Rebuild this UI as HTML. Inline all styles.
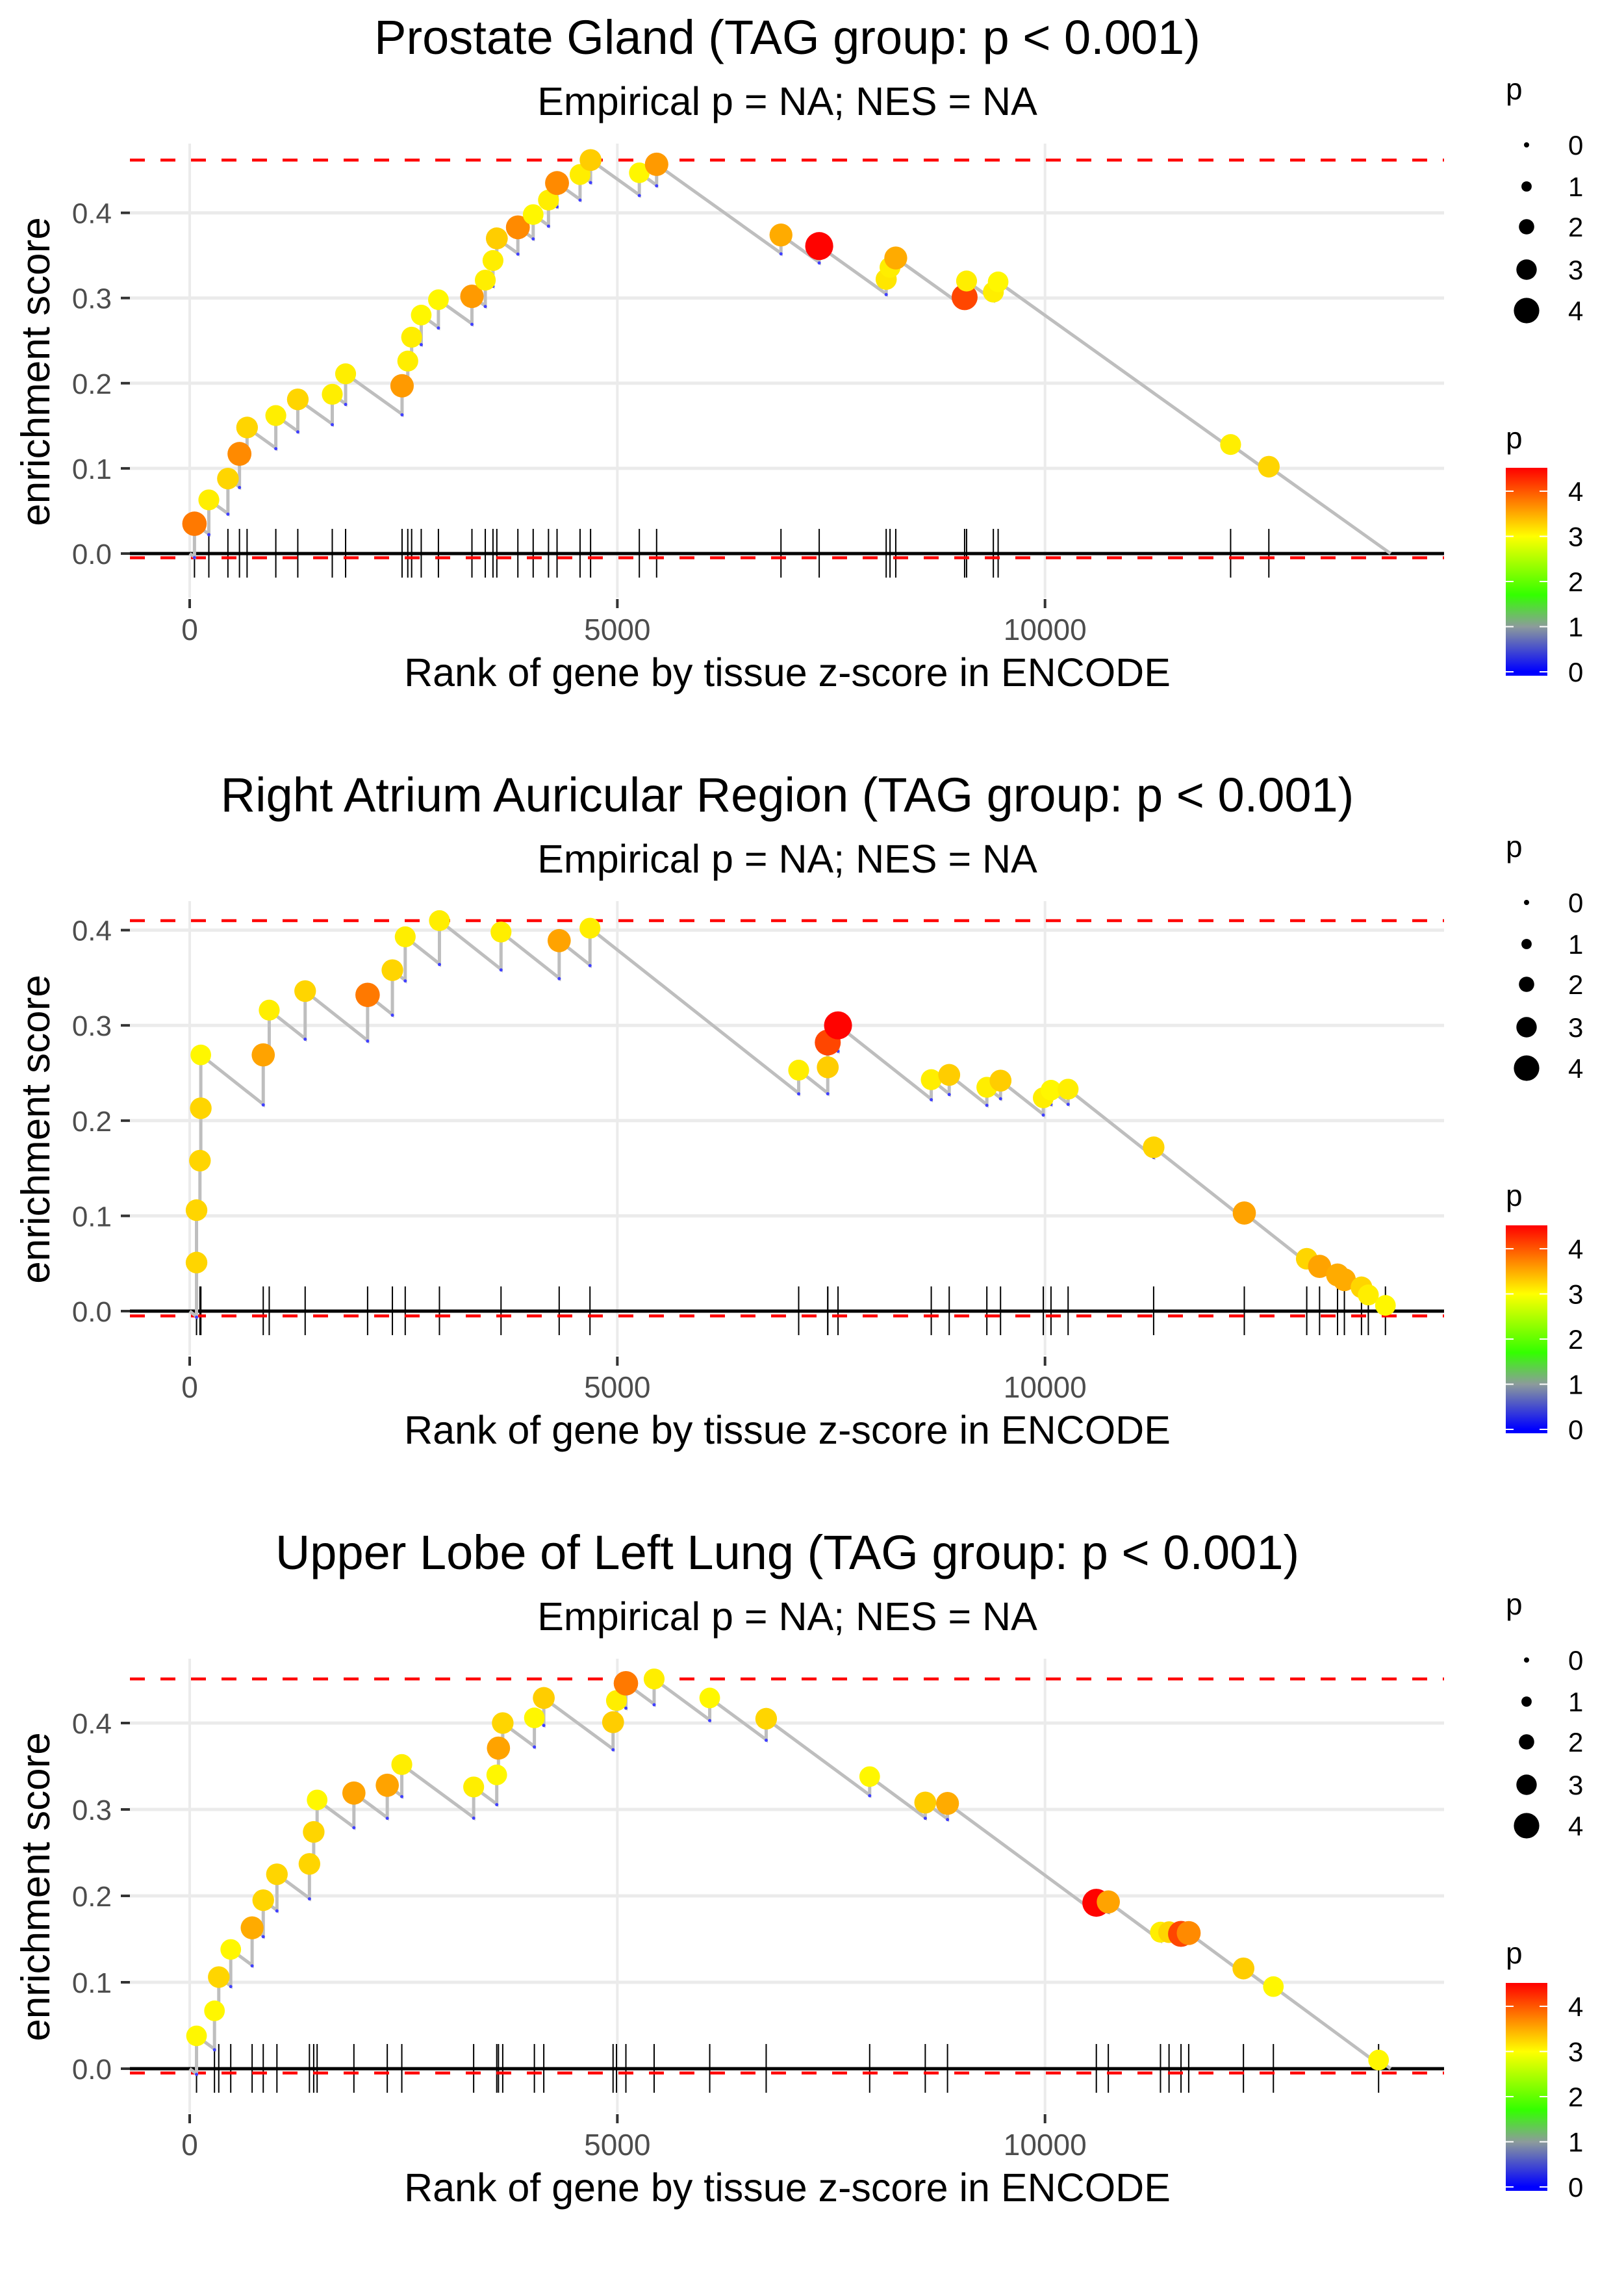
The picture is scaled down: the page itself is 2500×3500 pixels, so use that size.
<!DOCTYPE html>
<html><head><meta charset="utf-8"><style>
html,body{margin:0;padding:0;background:#fff;}
svg{display:block;font-family:"Liberation Sans",sans-serif;}
</style></head><body>
<svg id="chart" width="2500" height="3500" viewBox="0 0 2500 3500"></svg>
<script>
// ---- Panel 1: Prostate Gland ----
const p1Ranks = [56,224,447,582,671,1007,1264,1667,1823,2483,2550,2595,2707,2908,3300,3456,3546,3591,3837,4016,4195,4295,4564,4687,5257,5459,6913,7360,8143,8188,8255,9060,9083,9396,9452,12170,12617];
const p1Scores = [0.035,0.063,0.088,0.117,0.148,0.162,0.181,0.187,0.211,0.197,0.226,0.254,0.280,0.298,0.302,0.321,0.344,0.370,0.383,0.398,0.415,0.435,0.445,0.462,0.447,0.457,0.374,0.361,0.322,0.336,0.347,0.301,0.320,0.307,0.319,0.128,0.102];
const p1P = [3.8,3.1,3.25,3.7,3.25,3.1,3.25,3.1,3.1,3.6,3.1,3.1,3.05,3.05,3.6,3.1,3.1,3.3,3.7,3.05,3.1,3.7,3.1,3.3,3.05,3.6,3.5,4.5,3.15,3.1,3.5,4.1,3.1,3.1,3.05,3.1,3.25];
const p1Slope = 7.18e-5;
// ---- Panel 2: Right Atrium Auricular Region ----
const p2Ranks = [80,80,120,130,130,860,930,1350,2080,2370,2520,2920,3640,4320,4680,7120,7460,7460,7580,8670,8880,9320,9480,9980,10070,10270,11270,12330,13060,13210,13420,13500,13700,13780,13980];
const p2Scores = [0.051,0.106,0.158,0.213,0.269,0.269,0.316,0.336,0.332,0.358,0.393,0.410,0.398,0.389,0.402,0.253,0.256,0.282,0.300,0.243,0.248,0.235,0.242,0.224,0.232,0.233,0.172,0.103,0.055,0.047,0.038,0.033,0.025,0.017,0.006];
const p2P = [3.25,3.25,3.25,3.25,3.05,3.55,3.1,3.25,3.8,3.25,3.1,3.1,3.1,3.55,3.1,3.1,3.3,4.1,4.5,3.1,3.3,3.1,3.3,3.1,3.05,3.1,3.25,3.55,3.25,3.55,3.5,3.5,3.25,3.1,3.05];
const p2Slope = 7.1e-5;
// ---- Panel 3: Upper Lobe of Left Lung ----
const p3Ranks = [80,290,340,480,730,860,1020,1400,1450,1490,1920,2310,2480,3320,3590,3610,3660,4030,4140,4950,4990,5100,5430,6080,6740,7950,8600,8860,10600,10740,11350,11450,11590,11680,12320,12670,13900];
const p3Scores = [0.038,0.067,0.106,0.138,0.163,0.195,0.225,0.237,0.274,0.311,0.319,0.328,0.352,0.326,0.340,0.371,0.400,0.406,0.429,0.401,0.426,0.446,0.451,0.429,0.405,0.338,0.308,0.307,0.192,0.193,0.158,0.158,0.156,0.157,0.116,0.095,0.010];
const p3P = [3.05,3.05,3.25,3.05,3.5,3.25,3.25,3.25,3.25,3.05,3.55,3.55,3.1,3.1,3.05,3.55,3.25,3.05,3.3,3.3,3.1,3.8,3.1,3.05,3.25,3.05,3.3,3.5,4.5,3.55,3.1,3.25,4.1,3.7,3.3,3.05,3.05];
const p3Slope = 7.3e-5;

const panelTitles = ["Prostate Gland (TAG group: p < 0.001)","Right Atrium Auricular Region (TAG group: p < 0.001)","Upper Lobe of Left Lung (TAG group: p < 0.001)"];
const panelMax = [0.462,0.410,0.451];
const yTicks = [0,0.1,0.2,0.3,0.4];
const yTickLabels = ["0.0","0.1","0.2","0.3","0.4"];
const xTicks = [0,5000,10000];
const xTickLabels = ["0","5000","10000"];
const totalGenes = 14040;
const sizeLegendValues = [0,1,2,3,4];
const colorLegendValues = [0,1,2,3,4];

const NS="http://www.w3.org/2000/svg";
const svg=document.getElementById('chart');
function mk(tag,attrs,parent){const e=document.createElementNS(NS,tag);for(const k in attrs)e.setAttribute(k,attrs[k]);(parent||svg).appendChild(e);return e;}

const stops=[[0,[0,0,255]],[1,[140,155,155]],[1.7,[51,255,0]],[3,[255,255,0]],[4.52,[255,0,0]]];
function pColor(p){
  if(p<=stops[0][0])return 'rgb(0,0,255)';
  for(let i=1;i<stops.length;i++){if(p<=stops[i][0]){const a=stops[i-1],b=stops[i];const t=(p-a[0])/(b[0]-a[0]);const c=a[1].map((v,j)=>Math.round(v+(b[1][j]-v)*t));return 'rgb('+c.join(',')+')';}}
  return 'rgb(255,0,0)';
}
function pRadius(p){return 4+3.9*p;}

const L=200,R=2223,CX=1212;
const xScale=r=>292+r*0.13167;

const panels=[
 {ranks:p1Ranks,scores:p1Scores,p:p1P,slope:p1Slope,zero:852,unit:1311},
 {ranks:p2Ranks,scores:p2Scores,p:p2P,slope:p2Slope,zero:2018,unit:1466},
 {ranks:p3Ranks,scores:p3Scores,p:p3P,slope:p3Slope,zero:3184,unit:1330}
];

panels.forEach((pn,i)=>{
  const off=1166*i, top=221+off, bot=920+off;
  const yScale=v=>pn.zero-v*pn.unit;
  const g=mk('g',{});
  
  
  const t=mk('text',{x:CX,y:83+off,'text-anchor':'middle','font-size':74,fill:'#000'},g);t.textContent=panelTitles[i];
  
  
  const st=mk('text',{x:CX,y:177+off,'text-anchor':'middle','font-size':61,fill:'#000'},g);st.textContent="Empirical p = NA; NES = NA";
  
  
  yTicks.forEach((v,k)=>{
    const y=yScale(v);
    const gl=mk('line',{x1:L,x2:R,y1:y,y2:y,stroke:'#ebebeb','stroke-width':5},g);
    
    
    mk('line',{x1:186,x2:200,y1:y,y2:y,stroke:'#333','stroke-width':4},g);
    const tl=mk('text',{x:172,y:y+16,'text-anchor':'end','font-size':44,fill:'#4d4d4d'},g);tl.textContent=yTickLabels[k];
    
    
  });
  xTicks.forEach((v,k)=>{
    const x=xScale(v);
    const gl=mk('line',{x1:x,x2:x,y1:top,y2:bot,stroke:'#ebebeb','stroke-width':4},g);
    
    
    mk('line',{x1:x,x2:x,y1:bot+2,y2:bot+16,stroke:'#333','stroke-width':4},g);
    const tl=mk('text',{x:x,y:985+off,'text-anchor':'middle','font-size':46,fill:'#4d4d4d'},g);tl.textContent=xTickLabels[k];
    
    
  });
  const yt=mk('text',{x:0,y:0,'text-anchor':'middle','font-size':62,fill:'#000',transform:'translate(76,'+(572+off)+') rotate(-90)'},g);yt.textContent='enrichment score';
  
  
  const xt=mk('text',{x:CX,y:1056+off,'text-anchor':'middle','font-size':61,fill:'#000'},g);xt.textContent='Rank of gene by tissue z-score in ENCODE';
  
  
  pn.ranks.forEach(r=>{
    const x=xScale(r);
    const rl=mk('line',{x1:x,x2:x,y1:pn.zero-38,y2:pn.zero+37,stroke:'#000','stroke-width':2},g);
    
    
  });
  const zl=mk('line',{x1:L,x2:R,y1:pn.zero,y2:pn.zero,stroke:'#000','stroke-width':5},g);
  
  
  const dMax=mk('line',{x1:L,x2:R,y1:yScale(panelMax[i]),y2:yScale(panelMax[i]),stroke:'#ff0000','stroke-width':4.5,'stroke-dasharray':'23 24'},g);
  
  
  const dMin=mk('line',{x1:L,x2:R,y1:yScale(-0.005),y2:yScale(-0.005),stroke:'#ff0000','stroke-width':4.5,'stroke-dasharray':'23 24'},g);
  
  
  let d='M'+xScale(0)+','+yScale(0);let prevX=0,prevY=0;const lows=[];
  pn.ranks.forEach((r,k)=>{
    const low=prevY-pn.slope*(r-prevX);
    d+=' L'+xScale(r)+','+yScale(low)+' L'+xScale(r)+','+yScale(pn.scores[k]);
    lows.push([r,low]);prevX=r;prevY=pn.scores[k];
  });
  d+=' L'+xScale(totalGenes)+','+yScale(0);
  const es=mk('path',{d:d,fill:'none',stroke:'#bebebe','stroke-width':5,'stroke-linejoin':'miter'},g);
  
  
  lows.forEach(l=>{mk('circle',{cx:xScale(l[0]),cy:yScale(l[1])+1,r:2.5,fill:'#4040ff'},g);});
  pn.ranks.forEach((r,k)=>{
    const c=mk('circle',{cx:xScale(r),cy:yScale(pn.scores[k]),r:pRadius(pn.p[k]),fill:pColor(pn.p[k])},g);
    
    
  });
  const lg=mk('g',{},g);
  
  
  const lt=mk('text',{x:2318,y:153+off,'font-size':46,fill:'#000'},lg);lt.textContent='p';
  const sy=[223,287,349,415,478];
  sizeLegendValues.forEach((v,k)=>{
    mk('circle',{cx:2350,cy:sy[k]+off,r:pRadius(v)},lg);
    const tx=mk('text',{x:2414,y:sy[k]+off+15,'font-size':42,fill:'#000'},lg);tx.textContent=v;
    
    
  });
  const ct=mk('text',{x:2318,y:690+off,'font-size':46,fill:'#000'},lg);ct.textContent='p';
  const gid='cb'+i;
  const defs=mk('defs',{},lg);
  const gr=mk('linearGradient',{id:gid,x1:0,y1:1,x2:0,y2:0},defs);
  const pmin=-0.09,pmax=4.52;
  stops.forEach(s=>{mk('stop',{offset:((s[0]-pmin)/(pmax-pmin)).toFixed(3),'stop-color':'rgb('+s[1].join(',')+')'},gr);});
  const cbar=mk('rect',{x:2318,y:720+off,width:64,height:320,fill:'url(#'+gid+')'},lg);
  
  
  colorLegendValues.forEach(v=>{
    const y=1034+off-v*69.5;
    mk('line',{x1:2318,x2:2330,y1:y,y2:y,stroke:'#fff','stroke-width':2},lg);
    mk('line',{x1:2370,x2:2382,y1:y,y2:y,stroke:'#fff','stroke-width':2},lg);
    const tx=mk('text',{x:2414,y:y+15,'font-size':42,fill:'#000'},lg);tx.textContent=v;
    
    
  });
});
</script>
</body></html>
